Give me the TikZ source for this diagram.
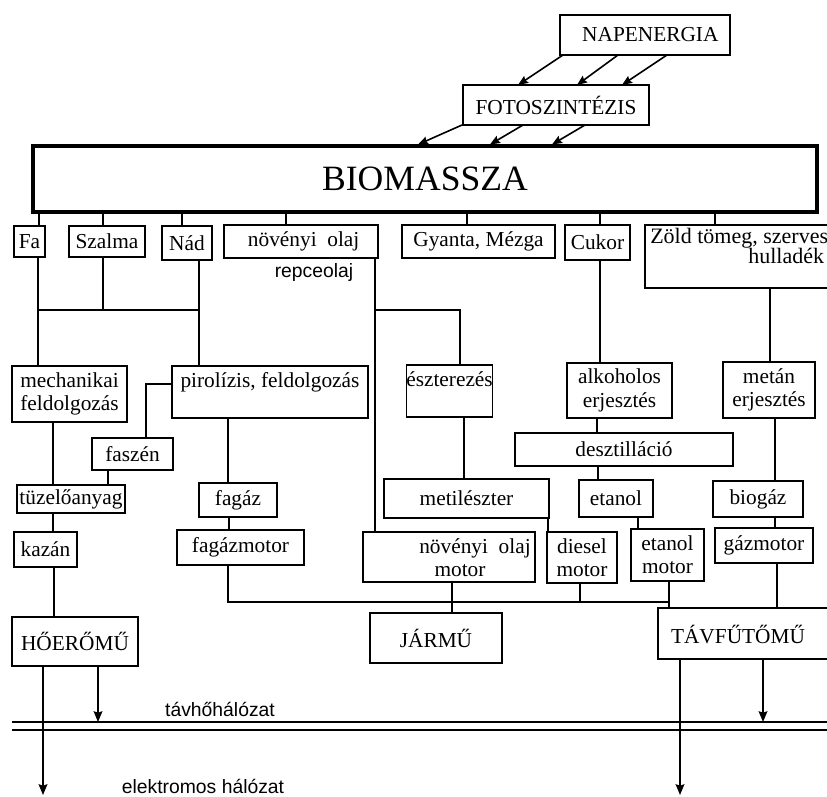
\documentclass[tikz,border=0pt]{standalone}
\usepackage{fontspec}
\setmainfont{Liberation Serif}
\newfontfamily\lsans{Liberation Sans}
\usetikzlibrary{arrows.meta,calc}
\newcommand\mybox[7][]{\node[box,minimum width={(#5-#3)*0.75pt},minimum height={(#6-#4)*0.75pt},#1] (#2) at ({(#3+#5)/2},{(#4+#6)/2}) {#7};}
\begin{document}
\begin{tikzpicture}[x=0.75pt,y=-0.75pt,
  box/.style={draw, line width=1.1pt, inner sep=0pt, outer sep=0pt, align=center, font=\fontsize{16}{17.5}\selectfont},
  txt/.style={inner sep=0pt, font=\fontsize{16}{17.5}\selectfont},
  sanstxt/.style={inner sep=0pt, font=\lsans\fontsize{14.5}{17}\selectfont},
  ln/.style={line width=1.25pt},
  arr/.style={line width=1.3pt, -{Stealth[length=8pt,width=6.5pt,inset=1pt]}},
  arrtop/.style={line width=1.2pt, -{Stealth[length=7.5pt,width=6pt,inset=1pt]}}]
\useasboundingbox (0,0) rectangle (827,796);
\clip (0,0) rectangle (827,796);

% boxes
\mybox{nap}{560}{15}{730}{55}{\hspace*{8pt}NAPENERGIA}
\mybox{foto}{463}{85}{649}{125}{FOTOSZINTÉZIS}
\mybox[line width=2.4pt,font=\fontsize{26.7}{30}\selectfont]{bio}{33}{146}{817}{212}{BIOMASSZA}
\mybox{fa}{14}{226}{45}{257}{Fa}
\mybox{szalma}{69}{226}{145}{257}{Szalma}
\mybox{nad}{162}{226}{212}{260}{Nád}
\mybox{olaj}{224}{225}{378}{258}{\hspace*{4pt}növényi\hspace{0.5em}olaj}
\mybox{gyanta}{402}{225}{555}{258}{Gyanta, Mézga}
\mybox{cukor}{565}{225}{630}{260}{Cukor}
\mybox{zold}{645}{225}{860}{288}{}
\mybox{mech}{12}{366}{127}{422}{mechanikai\\feldolgozás}
\mybox{piro}{172}{366}{368}{418}{pirolízis, feldolgozás\\\mbox{}}
\mybox{esz}{407}{365}{492}{417}{észterezés\\\mbox{}}
\mybox{alk}{567}{363}{672}{418}{alkoholos\\erjesztés}
\mybox{metan}{723}{362}{815}{418}{metán\\erjesztés}
\mybox{fasz}{92}{438}{173}{470}{faszén}
\mybox{desz}{515}{433}{733}{466}{desztilláció}
\mybox{met}{384}{479}{549}{518}{metilészter}
\mybox{etan}{579}{480}{653}{517}{etanol}
\mybox{biog}{713}{481}{803}{517}{biogáz}
\mybox{fagaz}{199}{483}{277}{517}{fagáz}
\mybox{tuz}{17}{485}{125}{513}{tüzelőanyag}
\mybox{kazan}{14}{532}{77}{567}{kazán}
\mybox{fgm}{177}{530}{304}{565}{fagázmotor}
\mybox{nom}{363}{532}{535}{582}{}
\mybox{dies}{547}{532}{617}{583}{diesel\\motor}
\mybox{etm}{631}{529}{704}{581}{etanol\\motor}
\mybox{gazm}{715}{528}{813}{563}{gázmotor}
\mybox{hoe}{12}{617}{138}{666}{HŐERŐMŰ}
\mybox{jarmu}{370}{613}{502}{663}{JÁRMŰ}
\mybox{tav}{658}{608}{860}{659}{}

% texts
\node[txt] (nomt1) at (475,548) {növényi\hspace{0.5em}olaj};
\node[txt] (nomt2) at (460,571) {motor};
\node[txt] (tavt) at (738,634) {TÁVFŰTŐMŰ};
\node[txt,anchor=base west,font=\fontsize{16.5}{19}\selectfont] (zt1) at (650,243) {Zöld tömeg, szerves};
\node[txt,anchor=base west,font=\fontsize{16.5}{19}\selectfont] (zt2) at (748,263) {hulladék};
\node[sanstxt] (repce) at (314,272) {repceolaj};
\node[sanstxt] (tavh) at (220,709) {távhőhálózat};
\node[sanstxt] (elek) at (203,786) {elektromos hálózat};

% helper coordinates
\foreach \xx in {38,39,43,53,54,98,103,108,146,182,199,228,229,286,375,452,460,464,467,548,580,597,598,600,638,669,680,715,763,770,775,777}
  {\coordinate (x\xx) at (\xx,0);}
\coordinate (y310) at (0,310);
\coordinate (y384) at (0,384);
\coordinate (y602) at (0,602);
\coordinate (hl1) at (12,722);
\coordinate (hr1) at (830,722);
\coordinate (hl2) at (12,730);
\coordinate (hr2) at (830,730);
\coordinate (elend) at (43,795);
\coordinate (tavend) at (680,795);

% top arrows
\draw[arrtop] ($(nap.south west)+(3,0)$) -- ($(foto.north west)+(55,0)$);
\draw[arrtop] ($(nap.south west)+(58,0)$) -- ($(foto.north west)+(114,0)$);
\draw[arrtop] ($(nap.south west)+(107,0)$) -- ($(foto.north west)+(159,0)$);
\draw[arrtop] ($(foto.south west)+(-1,0)$) -- ($(bio.north west)+(385,-1.5)$);
\draw[arrtop] ($(foto.south west)+(60,0)$) -- ($(bio.north west)+(457,-1.5)$);
\draw[arrtop] ($(foto.south west)+(122,0)$) -- ($(bio.north west)+(519,-1.5)$);

% stems from BIOMASSZA
\draw[ln] (bio.south -| x39) -- (fa.north -| x39);
\draw[ln] (bio.south -| x103) -- (szalma.north -| x103);
\draw[ln] (bio.south -| x182) -- (nad.north -| x182);
\draw[ln] (bio.south -| x286) -- (olaj.north -| x286);
\draw[ln] (bio.south -| x467) -- (gyanta.north -| x467);
\draw[ln] (bio.south -| x600) -- (cukor.north -| x600);
\draw[ln] (bio.south -| x715) -- (zold.north -| x715);

% left branch
\draw[ln] (fa.south -| x38) -- (mech.north -| x38);
\draw[ln] (szalma.south -| x103) -- (x103 |- y310);
\draw[ln] (x38 |- y310) -- (x199 |- y310);
\draw[ln] (nad.south -| x199) -- (piro.north -| x199);
\draw[ln] (piro.west |- y384) -| (fasz.north -| x146);
\draw[ln] (mech.south -| x53) -- (tuz.north -| x53);
\draw[ln] (fasz.south -| x108) -- (tuz.north -| x108);
\draw[ln] (tuz.south -| x53) -- (kazan.north -| x53);
\draw[ln] (kazan.south -| x54) -- (hoe.north -| x54);
\draw[ln] (piro.south -| x228) -- (fagaz.north -| x228);
\draw[ln] (fagaz.south -| x229) -- (fgm.north -| x229);

% middle branch
\draw[ln] (olaj.south -| x375) -- (nom.north -| x375);
\draw[ln] (x375 |- y310) -| (esz.north -| x460);
\draw[ln] (esz.south -| x464) -- (met.north -| x464);
\draw[ln] (met.south -| x548) -- (dies.north -| x548);
\draw[ln] (cukor.south -| x600) -- (alk.north -| x600);
\draw[ln] (alk.south -| x597) -- (desz.north -| x597);
\draw[ln] (desz.south -| x598) -- (etan.north -| x598);
\draw[ln] (etan.south -| x638) -- (etm.north -| x638);
\draw[ln] (zold.south -| x770) -- (metan.north -| x770);
\draw[ln] (metan.south -| x775) -- (biog.north -| x775);
\draw[ln] (biog.south -| x775) -- (gazm.north -| x775);

% motors to users
\draw[ln] (fgm.south -| x228) |- (x669 |- y602);
\draw[ln] (etm.south -| x669) -- (tav.north -| x669);
\draw[ln] (nom.south -| x452) -- (jarmu.north -| x452);
\draw[ln] (dies.south -| x580) -- (x580 |- y602);
\draw[ln] (gazm.south -| x777) -- (tav.north -| x777);

% networks
\draw[line width=1.9pt] (hl1) -- (hr1);
\draw[line width=1.2pt] (hl2) -- (hr2);
\draw[arr] (hoe.south -| x43) -- (elend);
\draw[arr] (hoe.south -| x98) -- (x98 |- hl1);
\draw[arr] (tav.south -| x680) -- (tavend);
\draw[arr] (tav.south -| x763) -- (x763 |- hl1);
\end{tikzpicture}
\end{document}
